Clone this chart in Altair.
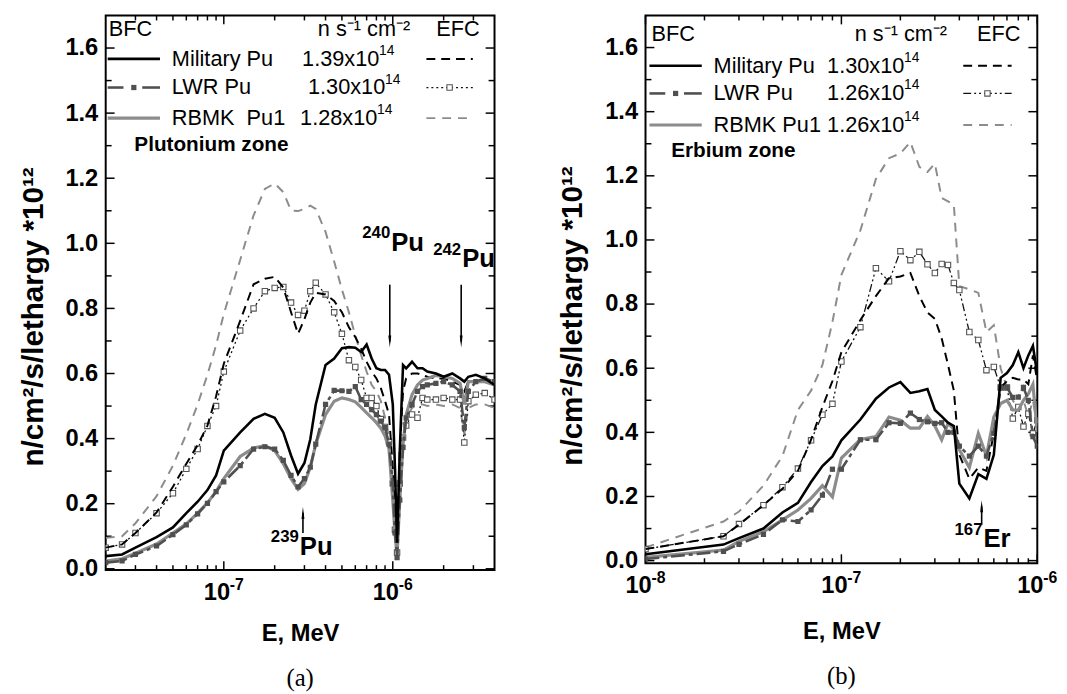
import altair as alt
import pandas as pd

SANS = "Liberation Sans"
SERIF = "Liberation Serif"

# ---------------- data: panel (a) Plutonium zone ----------------
E_a = [2.0e-8, 2.5e-8, 3.0e-8, 4.0e-8, 5.0e-8, 6.0e-8, 7.0e-8, 8.0e-8, 9.0e-8,
       1.0e-7, 1.25e-7, 1.5e-7, 1.75e-7, 2.0e-7, 2.25e-7, 2.5e-7, 2.75e-7, 3.0e-7,
       3.25e-7, 3.5e-7, 4.0e-7, 4.5e-7, 5.0e-7, 5.5e-7, 6.0e-7, 6.5e-7, 7.0e-7,
       7.5e-7, 8.0e-7, 8.5e-7, 9.0e-7, 9.5e-7, 1.0e-6, 1.03e-6, 1.06e-6, 1.1e-6,
       1.15e-6, 1.2e-6, 1.3e-6, 1.4e-6, 1.5e-6, 1.6e-6, 1.8e-6, 2.0e-6, 2.25e-6,
       2.5e-6, 2.65e-6, 2.8e-6, 3.1e-6, 3.5e-6, 4.0e-6]
a_mil_bfc = [0.039, 0.044, 0.065, 0.097, 0.127, 0.171, 0.206, 0.242, 0.287,
             0.363, 0.419, 0.461, 0.476, 0.464, 0.419, 0.348, 0.292, 0.325,
             0.398, 0.505, 0.626, 0.646, 0.678, 0.681, 0.679, 0.666, 0.689,
             0.646, 0.616, 0.611, 0.611, 0.596, 0.505, 0.312, 0.080, 0.363,
             0.626, 0.616, 0.636, 0.616, 0.616, 0.606, 0.600, 0.590, 0.600,
             0.585, 0.575, 0.590, 0.596, 0.585, 0.565]
a_lwr_bfc = [0.019, 0.024, 0.044, 0.070, 0.105, 0.135, 0.169, 0.201, 0.237,
             0.267, 0.317, 0.368, 0.375, 0.368, 0.333, 0.287, 0.252, 0.277,
             0.312, 0.383, 0.505, 0.548, 0.547, 0.545, 0.560, 0.520, 0.505,
             0.489, 0.474, 0.454, 0.434, 0.383, 0.262, 0.110, 0.034, 0.211,
             0.373, 0.464, 0.505, 0.545, 0.560, 0.565, 0.570, 0.575, 0.565,
             0.545, 0.434, 0.545, 0.575, 0.585, 0.575]
a_rbmk_bfc = [0.024, 0.031, 0.048, 0.076, 0.110, 0.138, 0.171, 0.203, 0.237,
              0.277, 0.345, 0.371, 0.378, 0.363, 0.323, 0.277, 0.244, 0.262,
              0.312, 0.383, 0.474, 0.515, 0.525, 0.520, 0.513, 0.496, 0.479,
              0.464, 0.449, 0.432, 0.408, 0.368, 0.211, 0.110, 0.040, 0.211,
              0.383, 0.474, 0.535, 0.565, 0.580, 0.585, 0.594, 0.590, 0.585,
              0.570, 0.505, 0.575, 0.575, 0.575, 0.565]
a_mil_efc = [0.065, 0.075, 0.110, 0.173, 0.252, 0.323, 0.380, 0.440, 0.530,
             0.630, 0.762, 0.874, 0.891, 0.897, 0.864, 0.788, 0.722, 0.767,
             0.818, 0.848, 0.843, 0.823, 0.788, 0.742, 0.712, 0.676, 0.636,
             0.606, 0.585, 0.555, 0.515, 0.474, 0.312, 0.161, 0.060, 0.363,
             0.545, 0.585, 0.600, 0.600, 0.596, 0.590, 0.585, 0.585, 0.575,
             0.565, 0.545, 0.575, 0.575, 0.575, 0.565]
a_lwr_efc = [0.065, 0.075, 0.110, 0.171, 0.232, 0.307, 0.368, 0.439, 0.500,
             0.606, 0.732, 0.800, 0.853, 0.863, 0.866, 0.818, 0.780, 0.793,
             0.853, 0.879, 0.843, 0.788, 0.722, 0.641, 0.620, 0.580, 0.525,
             0.525, 0.500, 0.460, 0.436, 0.390, 0.262, 0.120, 0.050, 0.262,
             0.403, 0.440, 0.474, 0.464, 0.525, 0.520, 0.520, 0.525, 0.520,
             0.520, 0.388, 0.515, 0.535, 0.540, 0.520]
a_rbmk_efc = [0.095, 0.100, 0.140, 0.223, 0.317, 0.414, 0.505, 0.596, 0.687,
              0.783, 0.949, 1.086, 1.167, 1.184, 1.157, 1.101, 1.099, 1.106,
              1.116, 1.106, 1.035, 0.944, 0.858, 0.788, 0.717, 0.656, 0.606,
              0.565, 0.545, 0.515, 0.464, 0.403, 0.262, 0.110, 0.050, 0.211,
              0.383, 0.464, 0.494, 0.505, 0.505, 0.500, 0.505, 0.500, 0.505,
              0.494, 0.414, 0.494, 0.505, 0.505, 0.494]

# ---------------- data: panel (b) Erbium zone ----------------
E_b = [1.0e-8, 2.5e-8, 3.0e-8, 4.0e-8, 5.0e-8, 6.0e-8, 7.0e-8, 8.0e-8, 9.0e-8,
       1.0e-7, 1.25e-7, 1.5e-7, 1.75e-7, 2.0e-7, 2.25e-7, 2.5e-7, 2.75e-7,
       3.0e-7, 3.25e-7, 3.5e-7, 3.75e-7, 4.0e-7, 4.5e-7, 5.0e-7, 5.5e-7,
       6.0e-7, 6.5e-7, 7.0e-7, 7.5e-7, 8.0e-7, 8.5e-7, 9.0e-7, 9.5e-7, 1.0e-6]
b_mil_bfc = [0.020, 0.050, 0.070, 0.100, 0.150, 0.180, 0.245, 0.295, 0.325,
             0.375, 0.440, 0.505, 0.540, 0.557, 0.523, 0.528, 0.535, 0.470,
             0.450, 0.430, 0.420, 0.240, 0.194, 0.270, 0.255, 0.330, 0.570,
             0.585, 0.610, 0.650, 0.600, 0.640, 0.670, 0.580]
b_lwr_bfc = [0.005, 0.029, 0.051, 0.082, 0.127, 0.122, 0.158, 0.204, 0.285,
             0.285, 0.377, 0.377, 0.430, 0.428, 0.460, 0.440, 0.433, 0.428,
             0.430, 0.400, 0.400, 0.357, 0.326, 0.357, 0.326, 0.397, 0.540,
             0.540, 0.509, 0.510, 0.540, 0.500, 0.387, 0.357]
b_rbmk_bfc = [0.010, 0.033, 0.060, 0.090, 0.127, 0.158, 0.194, 0.234, 0.199,
              0.320, 0.378, 0.387, 0.448, 0.438, 0.413, 0.413, 0.450, 0.420,
              0.377, 0.428, 0.410, 0.346, 0.290, 0.397, 0.326, 0.448, 0.490,
              0.500, 0.470, 0.469, 0.500, 0.520, 0.550, 0.400]
b_mil_efc = [0.036, 0.076, 0.112, 0.173, 0.224, 0.280, 0.377, 0.479, 0.560,
             0.650, 0.750, 0.825, 0.881, 0.886, 0.897, 0.825, 0.774, 0.754,
             0.693, 0.611, 0.530, 0.330, 0.255, 0.290, 0.280, 0.397, 0.540,
             0.560, 0.570, 0.565, 0.565, 0.550, 0.640, 0.560]
b_lwr_efc = [0.036, 0.076, 0.114, 0.173, 0.229, 0.287, 0.375, 0.455, 0.489,
             0.621, 0.728, 0.912, 0.871, 0.965, 0.937, 0.963, 0.924, 0.897,
             0.925, 0.922, 0.866, 0.844, 0.713, 0.688, 0.594, 0.604, 0.540,
             0.540, 0.443, 0.479, 0.418, 0.458, 0.397, 0.438]
b_rbmk_efc = [0.041, 0.122, 0.153, 0.234, 0.326, 0.470, 0.530, 0.610, 0.744,
              0.891, 1.030, 1.190, 1.255, 1.270, 1.305, 1.228, 1.212, 1.238,
              1.131, 1.120, 1.110, 0.856, 0.846, 0.835, 0.713, 0.734, 0.600,
              0.540, 0.500, 0.470, 0.500, 0.450, 0.500, 0.420]

# legend texts
NAMES_A = ["Military Pu", "LWR Pu", "RBMK\u00a0 Pu1"]
NAMES_B = ["Military Pu", "LWR Pu", "RBMK Pu1"]
FLUX_A = ["1.39x10", "1.30x10", "1.28x10"]
FLUX_B = ["1.30x10", "1.26x10", "1.26x10"]
FLUX_EXP = "14"

# tick values and labels
Y_MAJOR = [0.0, 0.2, 0.4, 0.6, 0.8, 1.0, 1.2, 1.4, 1.6]
Y_MINOR = [0.1, 0.3, 0.5, 0.7, 0.9, 1.1, 1.3, 1.5]
XA_MAJOR = [1e-7, 1e-6]
XA_EXP = ["-7", "-6"]
XA_MINOR = [3e-8, 4e-8, 5e-8, 6e-8, 7e-8, 8e-8, 9e-8,
            2e-7, 3e-7, 4e-7, 5e-7, 6e-7, 7e-7, 8e-7, 9e-7, 2e-6, 3e-6]
XB_MAJOR = [1e-8, 1e-7, 1e-6]
XB_EXP = ["-8", "-7", "-6"]
XB_MINOR = [2e-8, 3e-8, 4e-8, 5e-8, 6e-8, 7e-8, 8e-8, 9e-8,
            2e-7, 3e-7, 4e-7, 5e-7, 6e-7, 7e-7, 8e-7, 9e-7]

ONE = pd.DataFrame({"k": [0]})

GRAY = "#8c8c8c"
DARK = "#505050"
STY = {
    "mil_bfc": dict(color="#000000", strokeWidth=2.6),
    "lwr_bfc": dict(color=DARK, strokeWidth=2.6, strokeDash=[14, 4, 4, 4]),
    "rbmk_bfc": dict(color=GRAY, strokeWidth=3.2),
    "mil_efc": dict(color="#000000", strokeWidth=2.0, strokeDash=[9, 6]),
    "rbmk_efc": dict(color=GRAY, strokeWidth=2.0, strokeDash=[9, 7]),
}
LWR_EFC_A = dict(color="#111111", strokeWidth=1.3, strokeDash=[2, 3])
LWR_EFC_B = dict(color="#111111", strokeWidth=1.3, strokeDash=[8, 3, 2, 3, 2, 3])

UP = "M0,-1L0.24,1L-0.24,1Z"
DOWN = "M0,1L0.24,-1L-0.24,-1Z"
LEG_FS = 22


def txt(s, x, y, size=LEG_FS, weight="normal", align="left"):
    return alt.Chart(ONE).mark_text(
        text=s, align=align, baseline="middle", font=SANS, fontSize=size,
        fontWeight=weight, color="black").encode(x=alt.value(x), y=alt.value(y))


def panel(E, ser, xdom, ydom, W, H, xmaj, xexp, xmin, lwr_efc_style, names, flux,
          leg, zone, arrows, isolabels, ttl, xtitle_pad, ytitle_y):
    xaxis = alt.Axis(values=xmaj, labels=False, ticks=False, domain=False, grid=False,
                     title="E, MeV", titleFont=SANS, titleFontSize=24,
                     titleFontWeight="bold", titleColor="black",
                     titlePadding=xtitle_pad)
    yaxis = alt.Axis(values=Y_MAJOR, format=".1f", labelFont=SANS, labelFontSize=24,
                     labelFontWeight="bold", labelColor="black", ticks=False,
                     domain=False, grid=False, labelPadding=8, labelFlush=False,
                     title="n/cm\u00b2/s/lethargy *10\u00b9\u00b2", titleFont=SANS,
                     titleFontSize=30, titleFontWeight="bold", titleColor="black",
                     titlePadding=17, titleY=ytitle_y)
    X = alt.X("E:Q", scale=alt.Scale(type="log", domain=xdom, nice=False), axis=xaxis)
    Y = alt.Y("v:Q", scale=alt.Scale(domain=ydom, nice=False, zero=False), axis=yaxis)

    layers = []
    # ticks (inward, all four sides)
    for vals, L in ((Y_MAJOR, 9), (Y_MINOR, 6)):
        d = pd.DataFrame({"v": vals})
        layers.append(alt.Chart(d).mark_rule(color="black", strokeWidth=1.5).encode(
            y=Y, x=alt.value(0), x2=alt.value(L)))
        layers.append(alt.Chart(d).mark_rule(color="black", strokeWidth=1.5).encode(
            y=Y, x=alt.value(W - L), x2=alt.value(W)))
    for vals, L in ((xmaj, 9), (xmin, 5)):
        d = pd.DataFrame({"E": vals})
        layers.append(alt.Chart(d).mark_rule(color="black", strokeWidth=1.5).encode(
            x=X, y=alt.value(H), y2=alt.value(H - L)))
        layers.append(alt.Chart(d).mark_rule(color="black", strokeWidth=1.5).encode(
            x=X, y=alt.value(0), y2=alt.value(L)))

    # x tick labels: "10" with a raised exponent
    dl = pd.DataFrame({"E": xmaj, "t": ["10"] * len(xmaj), "x": xexp})
    layers.append(alt.Chart(dl).mark_text(
        align="center", baseline="middle", font=SANS, fontSize=24, fontWeight="bold",
        color="black", dx=-7).encode(x=X, y=alt.value(H + 23), text="t:N"))
    layers.append(alt.Chart(dl).mark_text(
        align="left", baseline="middle", font=SANS, fontSize=16, fontWeight="bold",
        color="black", dx=6).encode(x=X, y=alt.value(H + 15), text="x:N"))

    def line(key, style):
        d = pd.DataFrame({"E": E, "v": ser[key]})
        return alt.Chart(d).mark_line(clip=True, **style).encode(x=X, y=Y)

    layers.append(line("rbmk_efc", STY["rbmk_efc"]))
    layers.append(line("lwr_efc", lwr_efc_style))
    layers.append(alt.Chart(pd.DataFrame({"E": E, "v": ser["lwr_efc"]})).mark_point(
        shape="square", size=30, filled=True, fill="white", stroke="#555555",
        strokeWidth=1.1, opacity=1, clip=True).encode(x=X, y=Y))
    layers.append(line("mil_efc", STY["mil_efc"]))
    layers.append(line("rbmk_bfc", STY["rbmk_bfc"]))
    layers.append(line("lwr_bfc", STY["lwr_bfc"]))
    layers.append(alt.Chart(pd.DataFrame({"E": E, "v": ser["lwr_bfc"]})).mark_point(
        shape="square", size=28, filled=True, color=DARK, opacity=1,
        clip=True).encode(x=X, y=Y))
    layers.append(line("mil_bfc", STY["mil_bfc"]))

    # legend block
    hx, hy, rows, lx0, lx1, nx, fx, ex0, ex1, fdx = leg
    layers.append(txt("BFC", hx[0], hy))
    layers.append(txt("n s\u207b\u00b9 cm\u207b\u00b2", hx[1], hy))
    layers.append(txt("EFC", hx[2], hy))
    efc_styles = [STY["mil_efc"], lwr_efc_style, STY["rbmk_efc"]]
    lm = (lx0 + lx1) / 2
    for i, ry in enumerate(rows):
        if i == 1:
            solid_dark = dict(color=DARK, strokeWidth=2.6)
            layers.append(alt.Chart(ONE).mark_rule(**solid_dark).encode(
                x=alt.value(lx0), x2=alt.value(lx0 + 16), y=alt.value(ry)))
            layers.append(alt.Chart(ONE).mark_rule(**solid_dark).encode(
                x=alt.value(lx1 - 18), x2=alt.value(lx1), y=alt.value(ry)))
        else:
            bst = STY["mil_bfc"] if i == 0 else STY["rbmk_bfc"]
            layers.append(alt.Chart(ONE).mark_rule(**bst).encode(
                x=alt.value(lx0), x2=alt.value(lx1), y=alt.value(ry)))
        layers.append(alt.Chart(ONE).mark_rule(**efc_styles[i]).encode(
            x=alt.value(ex0), x2=alt.value(ex1), y=alt.value(ry)))
        layers.append(txt(names[i], nx, ry))
        layers.append(txt(flux[i], fx + fdx[i], ry))
        layers.append(txt(FLUX_EXP, fx + fdx[i] + 78, ry - 8, size=14))
    layers.append(alt.Chart(ONE).mark_point(shape="square", size=28, filled=True,
                                            color=DARK, opacity=1).encode(
        x=alt.value(lm), y=alt.value(rows[1])))
    layers.append(alt.Chart(ONE).mark_point(shape="square", size=30, filled=True,
                                            fill="white", stroke="#555555",
                                            strokeWidth=1.1, opacity=1).encode(
        x=alt.value((ex0 + ex1) / 2), y=alt.value(rows[1])))
    layers.append(txt(zone[0], zone[1], zone[2], size=21, weight="bold"))

    # arrows
    for (e, ytail, ytip, direction) in arrows:
        px = (ydom[1] - ydom[0]) / H
        head = ytip - 6 * px if direction == "up" else ytip + 6 * px
        layers.append(alt.Chart(pd.DataFrame({"E": [e], "v": [ytail], "v2": [head]}))
                      .mark_rule(color="black", strokeWidth=1.6)
                      .encode(x=X, y=Y, y2="v2:Q"))
        layers.append(alt.Chart(pd.DataFrame({"E": [e], "v": [head]}))
                      .mark_point(shape=UP if direction == "up" else DOWN, size=150,
                                  filled=True, color="black", opacity=1, strokeWidth=0)
                      .encode(x=X, y=Y))
    for (e, yv, mass, elem) in isolabels:
        d = pd.DataFrame({"E": [e], "v": [yv]})
        layers.append(alt.Chart(d).mark_text(text=elem, align="left", baseline="middle",
                                             font=SANS, fontSize=26, fontWeight="bold",
                                             color="black", dx=1).encode(x=X, y=Y))
        layers.append(alt.Chart(d).mark_text(text=mass, align="right", baseline="middle",
                                             font=SANS, fontSize=17, fontWeight="bold",
                                             color="black", dy=-10).encode(x=X, y=Y))

    return alt.layer(*layers).properties(
        width=W, height=H,
        title=alt.TitleParams(ttl, orient="bottom", font=SERIF, fontSize=25,
                              fontWeight="normal", color="black", offset=21))


ser_a = dict(mil_bfc=a_mil_bfc, lwr_bfc=a_lwr_bfc, rbmk_bfc=a_rbmk_bfc,
             mil_efc=a_mil_efc, lwr_efc=a_lwr_efc, rbmk_efc=a_rbmk_efc)
ser_b = dict(mil_bfc=b_mil_bfc, lwr_bfc=b_lwr_bfc, rbmk_bfc=b_rbmk_bfc,
             mil_efc=b_mil_efc, lwr_efc=b_lwr_efc, rbmk_efc=b_rbmk_efc)

chart_a = panel(
    E_a, ser_a, [2e-8, 4e-6], [-0.004, 1.70], 394, 562, XA_MAJOR, XA_EXP, XA_MINOR,
    LWR_EFC_A, NAMES_A, FLUX_A,
    ([3, 215, 335], 14, [44, 73, 104], 2, 55, 67, 199, 325, 372, [0, 6, -2]),
    ("Plutonium zone", 29, 131),
    [(2.94e-7, 0.11, 0.19, "up"), (9.6e-7, 0.873, 0.68, "down"),
     (2.54e-6, 0.873, 0.68, "down")],
    [(2.78e-7, 0.066, "239", "Pu"), (9.66e-7, 1.0, "240", "Pu"),
     (2.54e-6, 0.95, "242", "Pu")],
    "(a)", 52, 305)

chart_b = panel(
    E_b, ser_b, [1e-8, 1e-6], [-0.008, 1.70], 397, 555, XB_MAJOR, XB_EXP, XB_MINOR,
    LWR_EFC_B, NAMES_B, FLUX_B,
    ([6, 212, 336], 19, [51, 79, 111], 4, 57, 69, 184, 322, 371, [0, 0, 0]),
    ("Erbium zone", 26, 137),
    [(5.2e-7, 0.112, 0.188, "up")],
    [(5.25e-7, 0.066, "167", "Er")],
    "(b)", 57, 304)

chart = alt.hconcat(chart_a, chart_b, spacing=61).properties(
    padding={"left": 9, "top": 1, "right": 0, "bottom": 0}
).configure_view(stroke="black", strokeWidth=2)

chart.save("out.html", embed_options={"renderer": "svg", "actions": False})
